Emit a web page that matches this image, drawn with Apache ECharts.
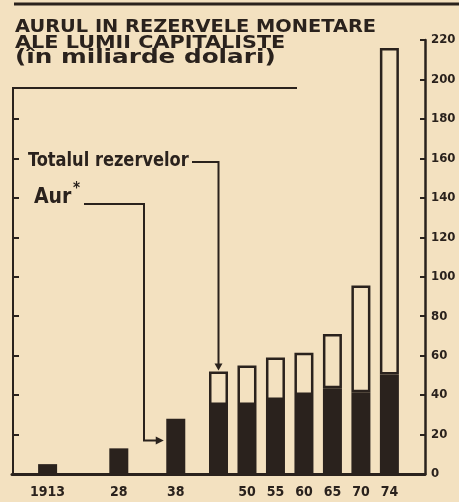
<!DOCTYPE html>
<html>
<head>
<meta charset="utf-8">
<script src="https://cdn.jsdelivr.net/npm/echarts@6/dist/echarts.min.js"></script>
<style>
  html, body { margin: 0; padding: 0; background: #f3e1c0; }
  #chart { width: 459px; height: 502px; }
</style>
</head>
<body>
<div id="chart"></div>
<script>
// ani (etichete pe axa X); bara fara eticheta e lasata goala
const years = ['1913', '28', '38', '', '50', '55', '60', '65', '70', '74'];
// aur, in miliarde dolari
const gold = [5, 13, 28, 35, 35, 37.5, 40, 43.5, 41.5, 50.5];
// totalul rezervelor (null = doar aur)
const total = [null, null, null, 52, 55, 59, 61.5, 71, 95.5, 216];
// etichete axa Y
const yTicks = [0, 20, 40, 60, 80, 100, 120, 140, 160, 180, 200, 220];

// asezare: pozitia fiecarei bare pe o grila de sloturi egale
const SLOTS = [2, 7, 11, 14, 16, 18, 20, 22, 24, 26];
const N_SLOTS = 29;
const INK = '#2a221d';
const PAPER = '#f3e1c0';
const WIDE = '"DejaVu Sans", sans-serif';
const COND = '"DejaVu Sans Condensed", "DejaVu Sans", sans-serif';

const cats = new Array(N_SLOTS).fill('');
const goldData = new Array(N_SLOTS).fill('-');
const restData = new Array(N_SLOTS).fill('-');
years.forEach((y, i) => {
  cats[SLOTS[i]] = y;
  goldData[SLOTS[i]] = gold[i];
  if (total[i] != null) restData[SLOTS[i]] = +(total[i] - gold[i]).toFixed(1);
});

const chart = echarts.init(document.getElementById('chart'));

chart.setOption({
  backgroundColor: PAPER,
  animation: false,
  grid: { left: 12, right: 34, top: 40, bottom: 28, outerBoundsMode: 'none' },
  xAxis: {
    type: 'category',
    data: cats,
    axisLine: { lineStyle: { color: INK, width: 3 } },
    axisTick: { show: false },
    axisLabel: { interval: 0, margin: 11, color: INK, fontFamily: COND, fontWeight: 'bold', fontSize: 14 }
  },
  yAxis: [
    {
      type: 'value',
      position: 'right',
      min: yTicks[0],
      max: yTicks[yTicks.length - 1],
      interval: yTicks[1] - yTicks[0],
      axisLine: { show: true, lineStyle: { color: INK, width: 2.5 } },
      axisTick: { show: true, inside: true, length: 5, lineStyle: { color: INK, width: 2 } },
      axisLabel: { margin: 6, color: INK, fontFamily: COND, fontWeight: 'bold', fontSize: 13 },
      splitLine: { show: false }
    },
    {
      type: 'value',
      position: 'left',
      min: yTicks[0],
      max: yTicks[yTicks.length - 1],
      interval: yTicks[1] - yTicks[0],
      axisLine: { show: false },
      axisTick: { show: true, inside: true, length: 7, lineStyle: { color: INK, width: 2 }, customValues: yTicks.slice(1, 10) },
      axisLabel: { show: false },
      splitLine: { show: false }
    }
  ],
  series: [
    {
      name: 'Aur',
      type: 'bar',
      stack: 'rez',
      barWidth: 19,
      data: goldData,
      itemStyle: { color: INK }
    },
    {
      name: 'Totalul rezervelor',
      type: 'bar',
      stack: 'rez',
      barWidth: 19,
      data: restData,
      itemStyle: { color: PAPER, borderColor: INK, borderWidth: 2.5 }
    }
  ]
});

// adnotari cu sageti, calculate din pozitia barelor
const px = i => chart.convertToPixel({ xAxisIndex: 0 }, SLOTS[i]);
const py = v => chart.convertToPixel({ yAxisIndex: 0 }, v);

const totX = px(3), totY = py(total[3]);
const aurX = px(2) - 12, aurY = py(17);
const line = (pts) => ({ type: 'polyline', shape: { points: pts }, style: { stroke: INK, lineWidth: 2, fill: null } });
const text = (x, y, str, font, sx) => ({
  type: 'text', x: x, y: y, scaleX: sx || 1,
  style: { x: 0, y: 0, text: str, fill: INK, font: font, textVerticalAlign: 'middle' }
});

chart.setOption({
  graphic: [
    { type: 'line', shape: { x1: 14, y1: 4, x2: 459, y2: 4 }, style: { stroke: INK, lineWidth: 3 } },
    // titlu
    text(15, 27.5, 'AURUL IN REZERVELE MONETARE', 'bold 17px ' + WIDE, 1.14),
    text(15, 44, 'ALE LUMII CAPITALISTE', 'bold 17px ' + WIDE, 1.22),
    text(15, 58.5, '(în miliarde dolari)', 'bold 19px ' + WIDE, 1.3),
    line([[297, 88], [13, 88], [13, py(0)]]),
    // adnotari
    text(28, 161, 'Totalul rezervelor', 'bold 19px ' + COND, 0.95),
    text(34, 198, 'Aur', 'bold 21px ' + COND),
    text(73, 189, '*', 'bold 15px ' + COND),
    line([[192, 162], [totX, 162], [totX, totY - 6]]),
    { type: 'polygon', shape: { points: [[totX - 4, totY - 8], [totX + 4, totY - 8], [totX, totY - 1]] }, style: { fill: INK } },
    line([[84, 204], [144, 204], [144, aurY], [aurX - 6, aurY]]),
    { type: 'polygon', shape: { points: [[aurX - 8, aurY - 4], [aurX - 8, aurY + 4], [aurX, aurY]] }, style: { fill: INK } }
  ]
});
</script>
</body>
</html>
